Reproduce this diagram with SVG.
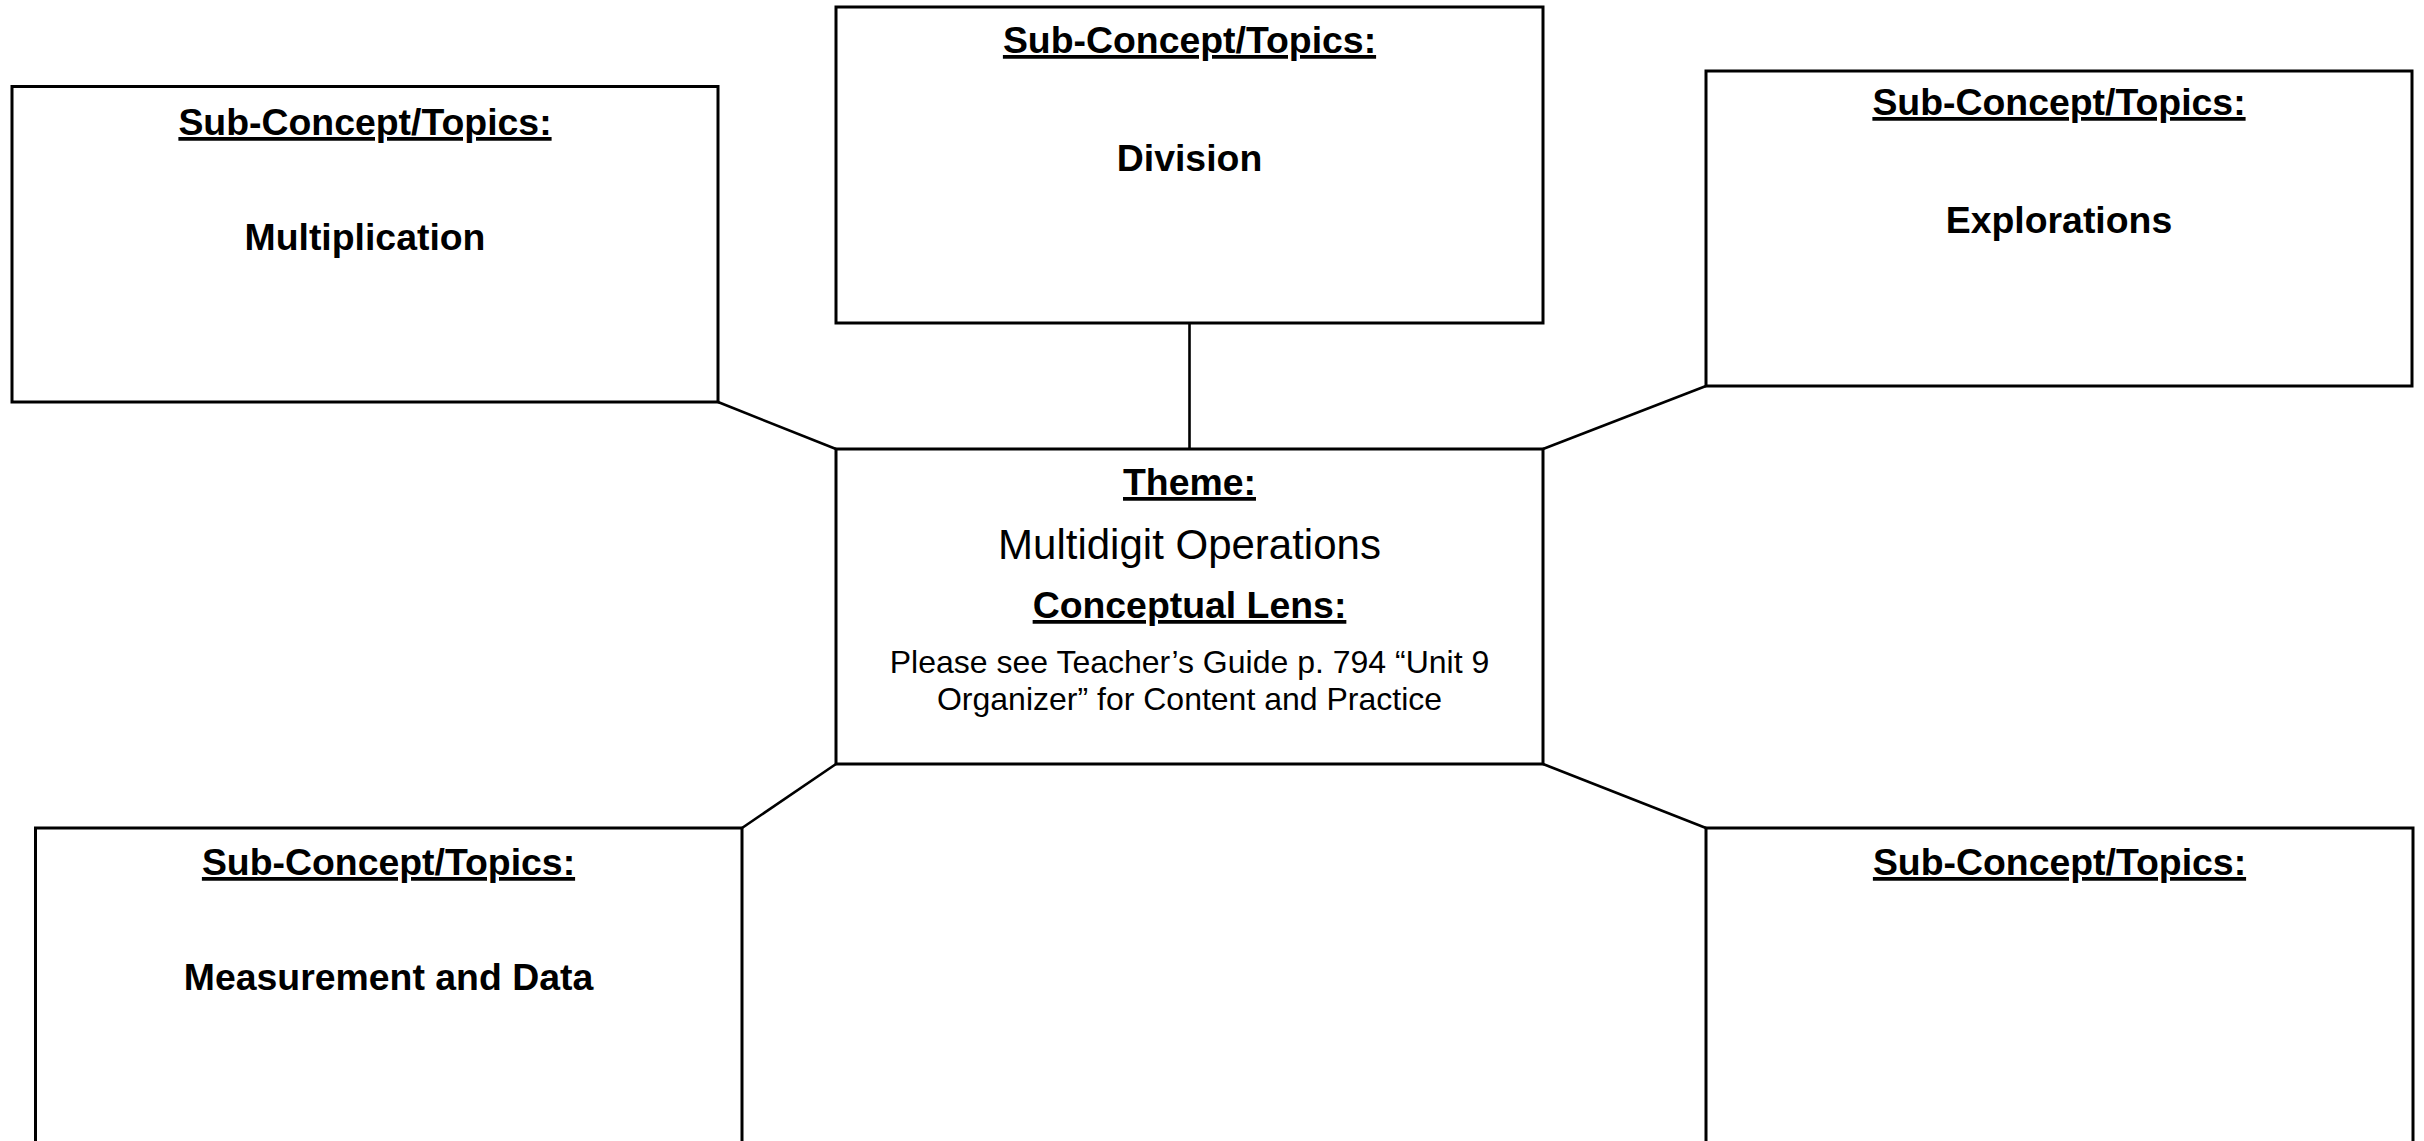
<svg xmlns="http://www.w3.org/2000/svg" width="2424" height="1141" viewBox="0 0 2424 1141">
  <style>
    .box { fill: #ffffff; stroke: #000000; stroke-width: 3; }
    .link { stroke: #000000; stroke-width: 2.6; fill: none; }
    text { font-family: "Liberation Sans", Arial, sans-serif; fill: #000000; text-anchor: middle; }
    .head { font-size: 37.4px; font-weight: bold; text-decoration: underline; }
    .topic { font-size: 37.4px; font-weight: bold; }
    .theme { font-size: 42px; }
    .note { font-size: 32px; }
  </style>
  <rect width="2424" height="1141" fill="#ffffff"/>

  <!-- connectors from the theme box to each sub-concept box -->
  <g id="connectors">
    <line class="link" x1="718" y1="402" x2="836" y2="449"/>
    <line class="link" x1="1189.5" y1="323" x2="1189.5" y2="449"/>
    <line class="link" x1="1706" y1="386" x2="1543" y2="449"/>
    <line class="link" x1="742" y1="828" x2="836" y2="764"/>
    <line class="link" x1="1543" y1="764" x2="1706" y2="828"/>
  </g>

  <g id="node-multiplication">
    <rect class="box" x="12" y="86.5" width="706" height="315.5"/>
    <text class="head" x="365" y="135">Sub-Concept/Topics:</text>
    <text class="topic" x="365" y="250">Multiplication</text>
  </g>

  <g id="node-division">
    <rect class="box" x="836" y="7" width="707" height="316"/>
    <text class="head" x="1189.5" y="53">Sub-Concept/Topics:</text>
    <text class="topic" x="1189.5" y="171">Division</text>
  </g>

  <g id="node-explorations">
    <rect class="box" x="1706" y="71" width="706" height="315"/>
    <text class="head" x="2059" y="115">Sub-Concept/Topics:</text>
    <text class="topic" x="2059" y="233">Explorations</text>
  </g>

  <g id="node-theme">
    <rect class="box" x="836" y="449" width="707" height="315"/>
    <text class="head" x="1189.5" y="495">Theme:</text>
    <text class="theme" x="1189.5" y="559">Multidigit Operations</text>
    <text class="head" x="1189.5" y="618">Conceptual Lens:</text>
    <text class="note" x="1189.5" y="673">Please see Teacher’s Guide p. 794 “Unit 9</text>
    <text class="note" x="1189.5" y="710">Organizer” for Content and Practice</text>
  </g>

  <g id="node-measurement">
    <rect class="box" x="35.5" y="828" width="706.5" height="340"/>
    <text class="head" x="388.5" y="875">Sub-Concept/Topics:</text>
    <text class="topic" x="388.5" y="990">Measurement and Data</text>
  </g>

  <g id="node-blank">
    <rect class="box" x="1706" y="828" width="707" height="340"/>
    <text class="head" x="2059.5" y="875">Sub-Concept/Topics:</text>
  </g>
</svg>
